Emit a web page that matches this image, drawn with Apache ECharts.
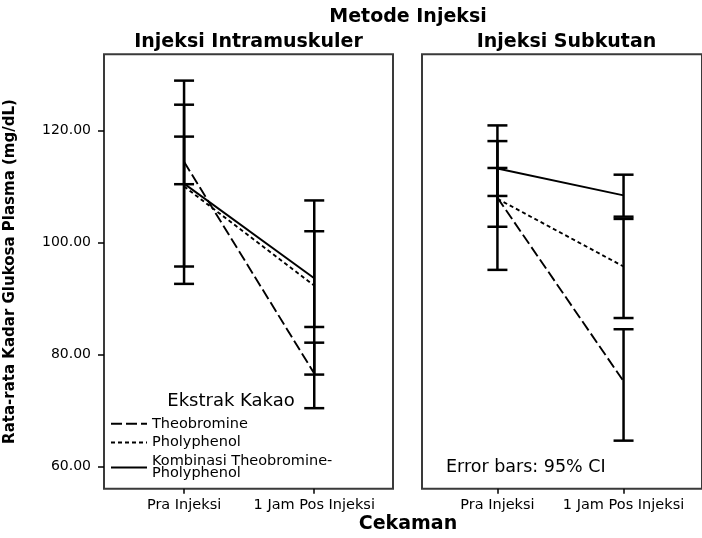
<!DOCTYPE html>
<html>
<head>
<meta charset="utf-8">
<script src="https://cdn.jsdelivr.net/npm/echarts@6/dist/echarts.min.js"></script>
<style>
  html, body { margin: 0; padding: 0; background: #fff; }
  #chart { width: 702px; height: 538px; }
</style>
</head>
<body>
<div id="chart"></div>
<script>
// kategori & nama kelompok
const categories = ['Pra Injeksi', '1 Jam Pos Injeksi'];
const groupNames = ['Theobromine', 'Pholyphenol', 'Kombinasi Theobromine-Pholyphenol'];
const yTicks = [60, 80, 100, 120];

// rata-rata, Injeksi Intramuskuler
const imTheobromine = [114.4, 76.6];
const imPholyphenol = [110.0, 92.3];
const imKombinasi = [110.5, 93.6];
// 95% CI [bawah, atas], Injeksi Intramuskuler
const imTheobromineCI = [[110.4, 118.9], [70.4, 82.1]];
const imPholyphenolCI = [[95.7, 124.6], [76.4, 107.5]];
const imKombinasiCI = [[92.6, 128.9], [84.9, 102.0]];

// rata-rata, Injeksi Subkutan
const scTheobromine = [108.0, 75.2];
const scPholyphenol = [107.8, 95.7];
const scKombinasi = [113.2, 108.4];
// 95% CI [bawah, atas], Injeksi Subkutan
const scTheobromineCI = [[95.1, 120.9], [64.6, 84.5]];
const scPholyphenolCI = [[102.8, 113.3], [86.5, 104.2]];
const scKombinasiCI = [[108.3, 118.1], [104.6, 112.1]];

const font = 'DejaVu Sans';
const dashStyles = [[11, 4], [4, 3], 'solid'];

const chart = echarts.init(document.getElementById('chart'));

function lineSeries(means, idx, grid) {
  return {
    name: groupNames[idx],
    type: 'line',
    xAxisIndex: grid,
    yAxisIndex: grid,
    symbol: 'none',
    silent: true,
    data: means.map((v, i) => [i, v]),
    lineStyle: { color: '#000', width: 1.9, type: dashStyles[idx] },
    itemStyle: { color: '#000' },
    z: 3
  };
}

function errorSeries(cis, grid) {
  const data = [];
  cis.forEach(ci => ci.forEach((r, i) => data.push([i, r[0], r[1]])));
  return {
    type: 'custom',
    xAxisIndex: grid,
    yAxisIndex: grid,
    silent: true,
    z: 4,
    data: data,
    renderItem: function (params, api) {
      const lo = api.coord([api.value(0), api.value(1)]);
      const hi = api.coord([api.value(0), api.value(2)]);
      const w = 10;
      const st = { stroke: '#000', lineWidth: 2.5 };
      return {
        type: 'group',
        children: [
          { type: 'line', shape: { x1: lo[0], y1: lo[1], x2: hi[0], y2: hi[1] }, style: st },
          { type: 'line', shape: { x1: lo[0] - w, y1: lo[1], x2: lo[0] + w, y2: lo[1] }, style: st },
          { type: 'line', shape: { x1: hi[0] - w, y1: hi[1], x2: hi[0] + w, y2: hi[1] }, style: st }
        ]
      };
    }
  };
}

function xAxis(grid, min, max) {
  return {
    type: 'value',
    gridIndex: grid,
    min: min,
    max: max,
    axisLine: { show: false, onZero: false },
    splitLine: { show: false },
    axisTick: { show: true, length: 5, customValues: [0, 1], lineStyle: { color: '#000', width: 1.5 } },
    axisLabel: {
      customValues: [0, 1],
      formatter: v => categories[Math.round(v)],
      fontFamily: font, fontSize: 14.5, color: '#000', margin: 9
    }
  };
}

function yAxis(grid, labels) {
  return {
    type: 'value',
    gridIndex: grid,
    min: 56,
    max: 133.6,
    name: labels ? 'Rata-rata Kadar Glukosa Plasma (mg/dL)' : '',
    nameLocation: 'middle',
    nameGap: 86,
    nameTextStyle: { fontFamily: font, fontSize: 15, fontWeight: 'bold', color: '#000' },
    axisLine: { show: false, onZero: false },
    splitLine: { show: false },
    axisTick: { show: labels, length: 6, customValues: yTicks, lineStyle: { color: '#000', width: 1.5 } },
    axisLabel: {
      show: labels,
      customValues: yTicks,
      formatter: v => v.toFixed(2),
      fontFamily: font, fontSize: 14, color: '#000', margin: 13
    }
  };
}

const option = {
  backgroundColor: '#fff',
  animation: false,
  grid: [
    { left: 104, top: 54.3, width: 289, height: 434.5, show: true, borderColor: '#3a3a3a', borderWidth: 2 },
    { left: 422, top: 54.3, width: 289, height: 434.5, show: true, borderColor: '#3a3a3a', borderWidth: 2 }
  ],
  xAxis: [xAxis(0, -0.615, 1.605), xAxis(1, -0.598, 1.622)],
  yAxis: [yAxis(0, true), yAxis(1, false)],
  legend: {
    data: groupNames,
    orient: 'vertical',
    left: 110,
    top: 416.3,
    padding: 0,
    itemWidth: 36,
    itemHeight: 14,
    itemGap: 3.7,
    selectedMode: false,
    itemStyle: { color: 'transparent', borderWidth: 0, opacity: 0 },
    formatter: n => n.replace('Theobromine-', 'Theobromine-\n'),
    textStyle: { fontFamily: font, fontSize: 14.5, color: '#000', lineHeight: 12.5 }
  },
  graphic: [
    { type: 'text', x: 408, y: 17, style: { text: 'Metode Injeksi', font: 'bold 19px "DejaVu Sans"', fill: '#000', align: 'center', verticalAlign: 'middle' } },
    { type: 'text', x: 248.5, y: 42, style: { text: 'Injeksi Intramuskuler', font: 'bold 19px "DejaVu Sans"', fill: '#000', align: 'center', verticalAlign: 'middle' } },
    { type: 'text', x: 566.5, y: 42, style: { text: 'Injeksi Subkutan', font: 'bold 19px "DejaVu Sans"', fill: '#000', align: 'center', verticalAlign: 'middle' } },
    { type: 'text', x: 408, y: 524, style: { text: 'Cekaman', font: 'bold 19px "DejaVu Sans"', fill: '#000', align: 'center', verticalAlign: 'middle' } },
    { type: 'text', x: 231, y: 401, style: { text: 'Ekstrak Kakao', font: '18px "DejaVu Sans"', fill: '#000', align: 'center', verticalAlign: 'middle' } },
    { type: 'text', x: 446, y: 467, style: { text: 'Error bars: 95% CI', font: '17.5px "DejaVu Sans"', fill: '#000', align: 'left', verticalAlign: 'middle' } }
  ],
  series: [
    lineSeries(imTheobromine, 0, 0),
    lineSeries(imPholyphenol, 1, 0),
    lineSeries(imKombinasi, 2, 0),
    lineSeries(scTheobromine, 0, 1),
    lineSeries(scPholyphenol, 1, 1),
    lineSeries(scKombinasi, 2, 1),
    errorSeries([imTheobromineCI, imPholyphenolCI, imKombinasiCI], 0),
    errorSeries([scTheobromineCI, scPholyphenolCI, scKombinasiCI], 1)
  ]
};

chart.setOption(option);
</script>
</body>
</html>
